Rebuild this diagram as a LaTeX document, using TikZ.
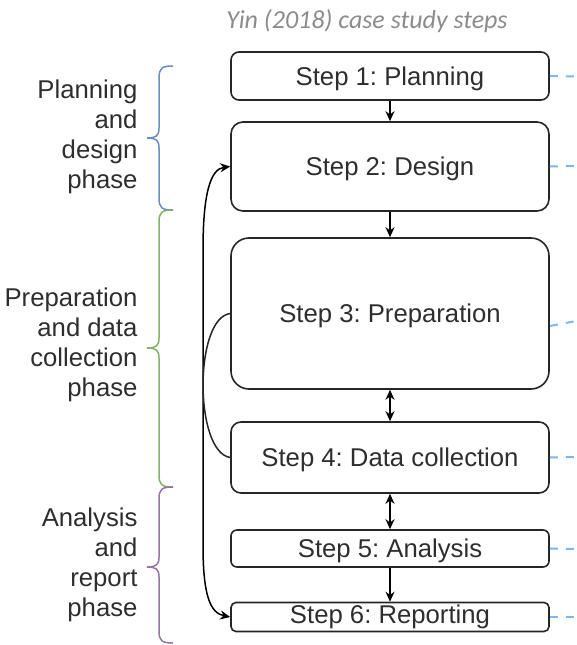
\documentclass[tikz,border=0pt]{standalone}
\usepackage{fontspec}
\setmainfont{Liberation Sans}
\newfontfamily\titlefont{Carlito}
\usetikzlibrary{arrows.meta}
\definecolor{txt}{HTML}{2E2E2E}
\definecolor{bracea}{HTML}{6C8EBF}
\definecolor{braceb}{HTML}{82B366}
\definecolor{bracec}{HTML}{9673A6}
\definecolor{dashblue}{RGB}{125,182,245}
\frenchspacing
\newcommand\phasebrace[4]{%
  \draw[brace,#1] (173,#2) .. controls (162,#2) and (159,{#2+2}) .. (159,{#2+12})
    -- (159,{#3-10}) .. controls (159,{#3-2}) and (156,#3) .. (147,#3)
    .. controls (156,#3) and (159,{#3+2}) .. (159,{#3+10})
    -- (159,{#4-12}) .. controls (159,{#4-2}) and (162,#4) .. (173,#4);}
\begin{document}
\begin{tikzpicture}[x=1pt,y=-1pt,
  every node/.style={text=txt,font=\fontsize{25.7}{30}\selectfont},
  stepbox/.style={draw=black!85,line width=1.6pt,minimum width=318pt,inner sep=0pt,text height=23.8pt,text depth=5.4pt},
  arr/.style={-{Stealth[length=10pt,width=9pt]},line width=1.5pt,black},
  arrb/.style={{Stealth[length=10pt,width=9pt]}-{Stealth[length=10pt,width=9pt]},line width=1.5pt,black},
  link/.style={line width=1.5pt,black!85},
  dashline/.style={dashblue,line width=2pt,dash pattern=on 8pt off 8pt},
  brace/.style={line width=1.5pt},
  phase/.style={align=right,anchor=east}]
\useasboundingbox (0,0) rectangle (576,645);

\node[text=black!45,font=\titlefont\itshape\fontsize{26}{30}\selectfont] (title) at (367,21) {Yin (2018) case study steps};

\node[stepbox,rounded corners=8pt,minimum height=48pt] (s1) at (390,76) {Step 1: Planning};
\node[stepbox,rounded corners=12pt,minimum height=89pt] (s2) at (390,166.5) {Step 2: Design};
\node[stepbox,rounded corners=18pt,minimum height=151pt] (s3) at (390,313.5) {Step 3: Preparation};
\node[stepbox,rounded corners=10pt,minimum height=71pt] (s4) at (390,457.5) {Step 4: Data collection};
\node[stepbox,rounded corners=6pt,minimum height=37pt] (s5) at (390,548.5) {Step 5: Analysis};
\node[stepbox,rounded corners=5pt,minimum height=29pt,text height=18.8pt] (s6) at (390,617) {Step 6: Reporting};

\draw[arr] (s1) -- (s2);
\draw[arr] (s2) -- (s3);
\draw[arrb] (s3) -- (s4);
\draw[arrb] (s4) -- (s5);
\draw[arr] (s5) -- (s6);

\draw[arrb] (s6.west) .. controls (210,613) and (203,595) .. (203,545)
  -- (203,250) .. controls (203,195) and (210,169) .. (s2.west);
\draw[link] (s3.west) .. controls (194,318) and (194,452) .. (s4.west);

\coordinate (d1) at (576,76.5);
\coordinate (d2) at (576,166);
\coordinate (d3) at (576,321);
\coordinate (d4) at (576,457);
\coordinate (d5) at (576,549);
\coordinate (d6) at (576,617);
\draw[dashline] (s1.east) -- (d1);
\draw[dashline] (s2.east) -- (d2);
\draw[dashline] (550,326) -- (d3);
\draw[dashline] (s4.east) -- (d4);
\draw[dashline] (s5.east) -- (d5);
\draw[dashline] (s6.east) -- (d6);

\phasebrace{bracea}{66}{138}{210}
\phasebrace{braceb}{210}{348}{487}
\phasebrace{bracec}{487}{567}{643}

\node[phase] (p1) at (141,137) {Planning\\and\\design\\phase};
\node[phase] (p2) at (141,344.5) {Preparation\\and data\\collection\\phase};
\node[phase] (p3) at (141,564.5) {Analysis\\and\\report\\phase};
\end{tikzpicture}
\end{document}
